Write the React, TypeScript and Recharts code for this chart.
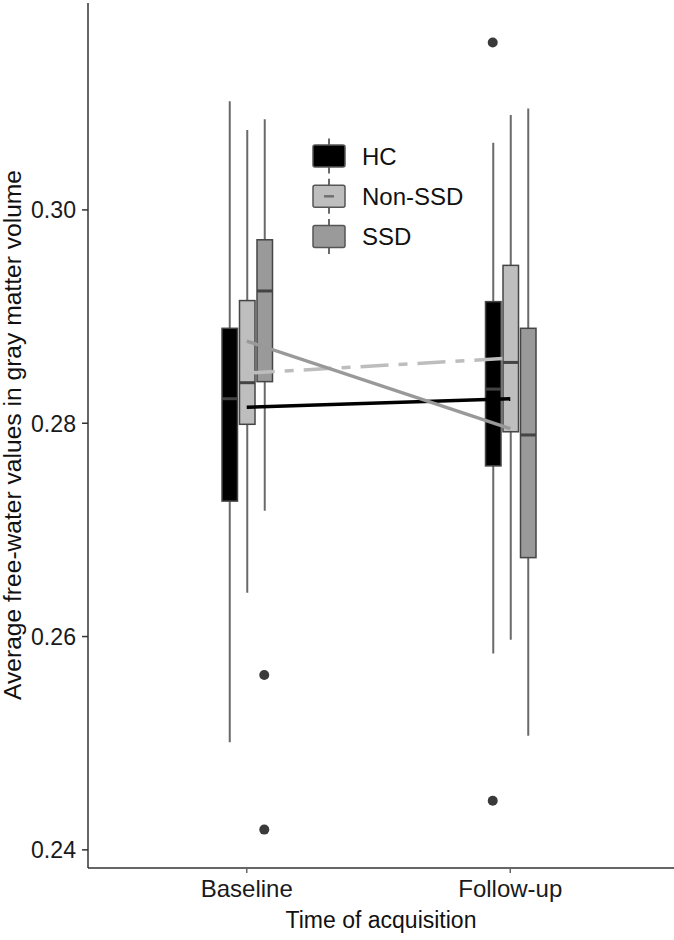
import { ComposedChart, Bar, Line, Scatter, XAxis, YAxis } from "recharts";

const times = ["Baseline", "Follow-up"];
const groups = ["HC", "Non-SSD", "SSD"];

// [min, q1, median, q3, max] per time point
const hcStats = [
  [0.2501, 0.2727, 0.2823, 0.2889, 0.3102],
  [0.2584, 0.276, 0.2832, 0.2914, 0.3063],
];
const nonSsdStats = [
  [0.2641, 0.2799, 0.2838, 0.2915, 0.3075],
  [0.2597, 0.2792, 0.2857, 0.2948, 0.3089],
];
const ssdStats = [
  [0.2718, 0.2839, 0.2924, 0.2972, 0.3085],
  [0.2507, 0.2674, 0.2789, 0.2889, 0.3095],
];

const hcMeans = [0.2815, 0.2823];
const nonSsdMeans = [0.2847, 0.2861];
const ssdMeans = [0.2877, 0.2795];

// outliers: time index, group index, value
const outlierTime = [0, 0, 1, 1];
const outlierGroup = [2, 2, 0, 0];
const outlierValue = [0.2564, 0.2419, 0.3157, 0.2446];

const yTicks = [0.24, 0.26, 0.28, 0.3];

const boxFills = ["#000000", "#bebebe", "#9a9a9a"];
const lineColors = ["#000000", "#bdbdbd", "#999999"];
const lineDashes = [undefined, "28 10 9 10", undefined];
const keyMarks = ["#000000", "#707070", "#9a9a9a"];

const FONT = "'Liberation Sans', Arial, sans-serif";
const PAD = { left: 27, right: 32 };
const BOX_W = 15.5;
const BOX_GAP = 2;
const DODGE = 0.0665; // box spacing in category units

const stats = [hcStats, nonSsdStats, ssdStats];
const means = [hcMeans, nonSsdMeans, ssdMeans];

const rows = times.map((time, t) => {
  const row: any = { time };
  groups.forEach((_, g) => {
    const [lo, q1, med, q3, hi] = stats[g][t];
    row[`box${g}`] = [q1, q3];
    row[`med${g}`] = med;
    row[`whisker${g}`] = [lo, hi];
    row[`mean${g}`] = means[g][t];
  });
  return row;
});

const outliers = outlierValue.map((y, i) => ({
  x: outlierTime[i] + 1 + (outlierGroup[i] - 1) * DODGE,
  y,
}));

function BoxShape(props: any) {
  const { x, y, width, height, payload, g } = props;
  const [q1, q3] = payload[`box${g}`];
  const med = payload[`med${g}`];
  const top = Math.min(y, y + height);
  const h = Math.abs(height);
  const my = top + (h * (q3 - med)) / (q3 - q1);
  return (
    <g>
      <rect x={x} y={top} width={width} height={h} fill={boxFills[g]} stroke="#454545" strokeWidth={1.5} />
      <line x1={x} x2={x + width} y1={my} y2={my} stroke="#444" strokeWidth={3} />
    </g>
  );
}

function WhiskerShape(props: any) {
  const { x, y, width, height } = props;
  const cx = x + width / 2;
  return <line x1={cx} x2={cx} y1={y} y2={y + height} stroke="#6a6a6a" strokeWidth={2} />;
}

// the source uses a narrow face; squeeze the tick labels to match
function YTick(props: any) {
  const { x, y, payload } = props;
  return (
    <text
      x={x}
      y={y}
      dy="0.355em"
      textAnchor="end"
      fontSize={24}
      textLength={45}
      lengthAdjust="spacingAndGlyphs"
      fontFamily={FONT}
      fill="#1a1a1a"
    >
      {payload.value.toFixed(2)}
    </text>
  );
}

function YTitle() {
  return (
    <text
      x={21}
      y={435}
      transform="rotate(-90, 21, 435)"
      textAnchor="middle"
      fontSize={23.5}
      textLength={530}
      lengthAdjust="spacingAndGlyphs"
      fontFamily={FONT}
      fill="#111"
    >
      Average free-water values in gray matter volume
    </text>
  );
}

function Legend() {
  return (
    <svg width={200} height={130} style={{ position: "absolute", left: 300, top: 130 }}>
      {groups.map((name, i) => {
        const cy = 26 + i * 40.3;
        return (
          <g key={name}>
            <line x1={29} x2={29} y1={cy - 17.5} y2={cy + 17.5} stroke="#6a6a6a" strokeWidth={2} />
            <rect x={13} y={cy - 11} width={32} height={22} rx={2} fill={boxFills[i]} stroke="#555" strokeWidth={1.5} />
            <line x1={24} x2={34} y1={cy} y2={cy} stroke={keyMarks[i]} strokeWidth={2.5} />
            <text x={62} y={cy + 8.5} fontSize={24} fontFamily={FONT} fill="#111">
              {name}
            </text>
          </g>
        );
      })}
    </svg>
  );
}

export default function App() {
  return (
    <div style={{ position: "absolute", left: 0, top: 0, width: 674, height: 940, background: "#fff" }}>
      <ComposedChart
        width={674}
        height={940}
        data={rows}
        barGap={BOX_GAP}
        margin={{ top: 3, right: 0, bottom: 0, left: 0 }}
      >
        <XAxis
          dataKey="time"
          padding={PAD}
          height={72}
          tickSize={5}
          tickMargin={7}
          tick={{ fontSize: 24, fill: "#1a1a1a", fontFamily: FONT }}
          axisLine={{ stroke: "#333", strokeWidth: 1.5 }}
          tickLine={{ stroke: "#666", strokeWidth: 1.5 }}
          label={{
            value: "Time of acquisition",
            position: "insideBottom",
            offset: 12,
            style: { fontSize: 23, fill: "#111", fontFamily: FONT },
          }}
        />
        <XAxis dataKey="time" xAxisId="whisker" hide padding={PAD} />
        <XAxis type="number" dataKey="x" xAxisId="num" hide padding={PAD} domain={[0.5, 2.5]} allowDataOverflow />
        <YAxis
          type="number"
          dataKey="y"
          domain={[0.2383, 0.3194]}
          allowDataOverflow
          ticks={yTicks}
          width={88}
          tickSize={6}
          tickMargin={6}
          tick={(p: any) => <YTick {...p} />}
          axisLine={{ stroke: "#333", strokeWidth: 1.5 }}
          tickLine={{ stroke: "#333", strokeWidth: 1.5 }}
        />
        {groups.map((name, g) => (
          <Bar
            key={`w${name}`}
            xAxisId="whisker"
            dataKey={`whisker${g}`}
            barSize={BOX_W}
            fill="#6a6a6a"
            isAnimationActive={false}
            shape={(p: any) => <WhiskerShape {...p} />}
          />
        ))}
        {groups.map((name, g) => (
          <Bar
            key={`b${name}`}
            dataKey={`box${g}`}
            barSize={BOX_W}
            fill={boxFills[g]}
            isAnimationActive={false}
            shape={(p: any) => <BoxShape {...p} g={g} />}
          />
        ))}
        {groups.map((name, g) => (
          <Line
            key={`m${name}`}
            dataKey={`mean${g}`}
            stroke={lineColors[g]}
            strokeWidth={3.5}
            strokeDasharray={lineDashes[g]}
            dot={false}
            isAnimationActive={false}
          />
        ))}
        <Scatter
          data={outliers}
          xAxisId="num"
          fill="#333"
          isAnimationActive={false}
          shape={(p: any) => <circle cx={p.cx} cy={p.cy} r={5} fill="#3a3a3a" />}
        />
        <YTitle />
      </ComposedChart>
      <Legend />
    </div>
  );
}
